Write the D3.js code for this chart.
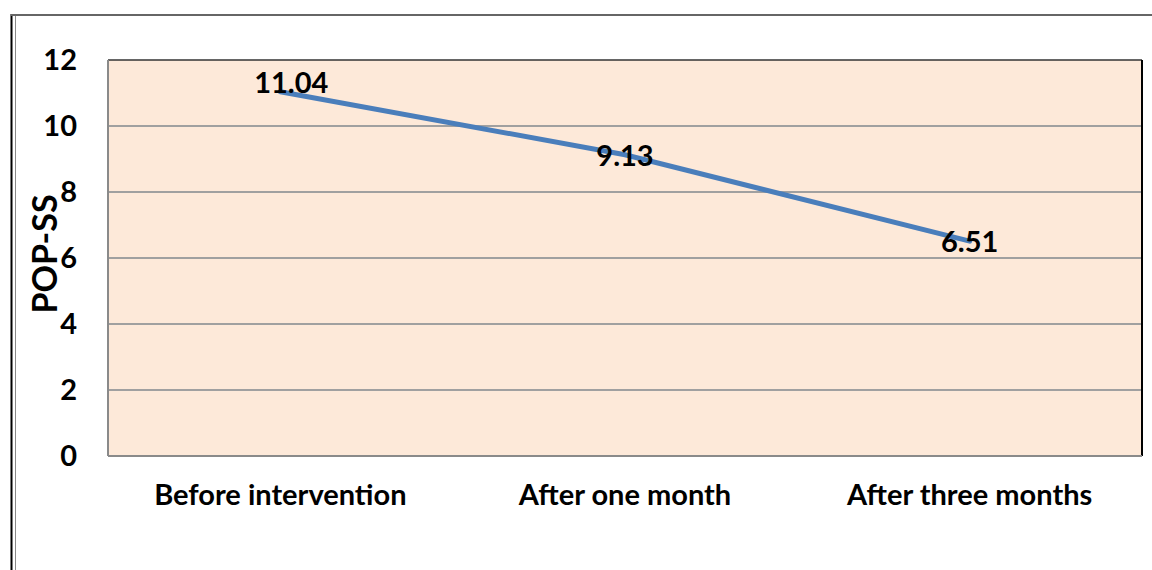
<!DOCTYPE html>
<html>
<head>
<meta charset="utf-8">
<script src="https://cdn.jsdelivr.net/npm/d3@7"></script>
<style>
  body { margin: 0; background: #fff; }
  svg { display: block; font-family: Lato, "Open Sans", sans-serif; }
</style>
</head>
<body>
<div id="chart"></div>
<script>
// data
const categories = ['Before intervention', 'After one month', 'After three months'];
const values = [11.04, 9.13, 6.51];
const yTicks = [0, 2, 4, 6, 8, 10, 12];
const yTitle = 'POP-SS';

const width = 1152, height = 570;
const plot = { left: 108, right: 1142, top: 60, bottom: 456 };
const fontSize = 29;

const svg = d3.select('#chart').append('svg')
  .attr('width', width)
  .attr('height', height);

// outer frame (double line on the left, thin line on top)
svg.append('line').attr('x1', 11.5).attr('x2', 11.5).attr('y1', 14).attr('y2', height)
  .attr('stroke', '#000').attr('stroke-width', 2);
svg.append('line').attr('x1', 15.5).attr('x2', 15.5).attr('y1', 15).attr('y2', height)
  .attr('stroke', '#888').attr('stroke-width', 1);
svg.append('line').attr('x1', 11).attr('x2', width).attr('y1', 15).attr('y2', 15)
  .attr('stroke', '#666').attr('stroke-width', 2);

const x = d3.scaleBand().domain(categories).range([plot.left, plot.right]);
const y = d3.scaleLinear().domain([0, 12]).range([plot.bottom, plot.top]);

// plot area background
svg.append('rect')
  .attr('x', plot.left).attr('y', plot.top)
  .attr('width', plot.right - plot.left).attr('height', plot.bottom - plot.top)
  .attr('fill', '#fde9d9');

// gridlines
svg.append('g')
  .selectAll('line')
  .data(yTicks.filter(t => t > 0 && t < 12))
  .enter().append('line')
  .attr('x1', plot.left).attr('x2', plot.right)
  .attr('y1', d => y(d)).attr('y2', d => y(d))
  .attr('stroke', '#a0a0a0').attr('stroke-width', 2);

// plot area border: dark top/right, grey left/bottom
svg.append('line').attr('x1', plot.left).attr('x2', plot.right).attr('y1', plot.top).attr('y2', plot.top)
  .attr('stroke', '#333').attr('stroke-width', 1.5);
svg.append('line').attr('x1', plot.right).attr('x2', plot.right).attr('y1', plot.top).attr('y2', plot.bottom)
  .attr('stroke', '#000').attr('stroke-width', 2);
svg.append('line').attr('x1', plot.left).attr('x2', plot.left).attr('y1', plot.top).attr('y2', plot.bottom)
  .attr('stroke', '#8a8a8a').attr('stroke-width', 2);
svg.append('line').attr('x1', plot.left).attr('x2', plot.right).attr('y1', plot.bottom).attr('y2', plot.bottom)
  .attr('stroke', '#8a8a8a').attr('stroke-width', 2);

// y axis labels
const yAxis = d3.axisLeft(y).tickValues(yTicks).tickSize(0).tickPadding(0);
const yg = svg.append('g').attr('transform', `translate(77,0)`).call(yAxis);
yg.select('.domain').remove();
yg.selectAll('text')
  .attr('font-size', fontSize).attr('font-weight', 'bold').attr('fill', '#000')
  .attr('font-family', 'Lato, sans-serif');

// x axis labels
const xAxis = d3.axisBottom(x).tickSize(0).tickPadding(0);
const xg = svg.append('g').attr('transform', `translate(0,${plot.bottom + 28})`).call(xAxis);
xg.select('.domain').remove();
xg.selectAll('text')
  .attr('font-size', fontSize).attr('font-weight', 'bold').attr('fill', '#000')
  .attr('font-family', 'Lato, sans-serif');

// y title
svg.append('text')
  .attr('transform', `translate(57,${(plot.top + plot.bottom) / 2 - 4}) rotate(-90)`)
  .attr('text-anchor', 'middle')
  .attr('font-size', 34).attr('font-weight', 'bold')
  .text(yTitle);

// series line
const pts = categories.map((c, i) => ({ c, v: values[i] }));
const line = d3.line().x(d => x(d.c) + x.bandwidth() / 2).y(d => y(d.v));
svg.append('path')
  .datum(pts)
  .attr('d', line)
  .attr('fill', 'none')
  .attr('stroke', '#4a7ebb')
  .attr('stroke-width', 5)
  .attr('stroke-linecap', 'round');

// data labels, centred on the point (first one nudged up/right like Excel)
svg.append('g')
  .selectAll('text')
  .data(pts)
  .enter().append('text')
  .attr('x', (d, i) => x(d.c) + x.bandwidth() / 2 + (i === 0 ? 11 : 0))
  .attr('y', (d, i) => y(d.v) + (i === 0 ? -9 : 1))
  .attr('dy', '0.35em')
  .attr('text-anchor', 'middle')
  .attr('font-size', fontSize).attr('font-weight', 'bold')
  .attr('fill', '#000')
  .text(d => d.v.toFixed(2));
</script>
</body>
</html>
